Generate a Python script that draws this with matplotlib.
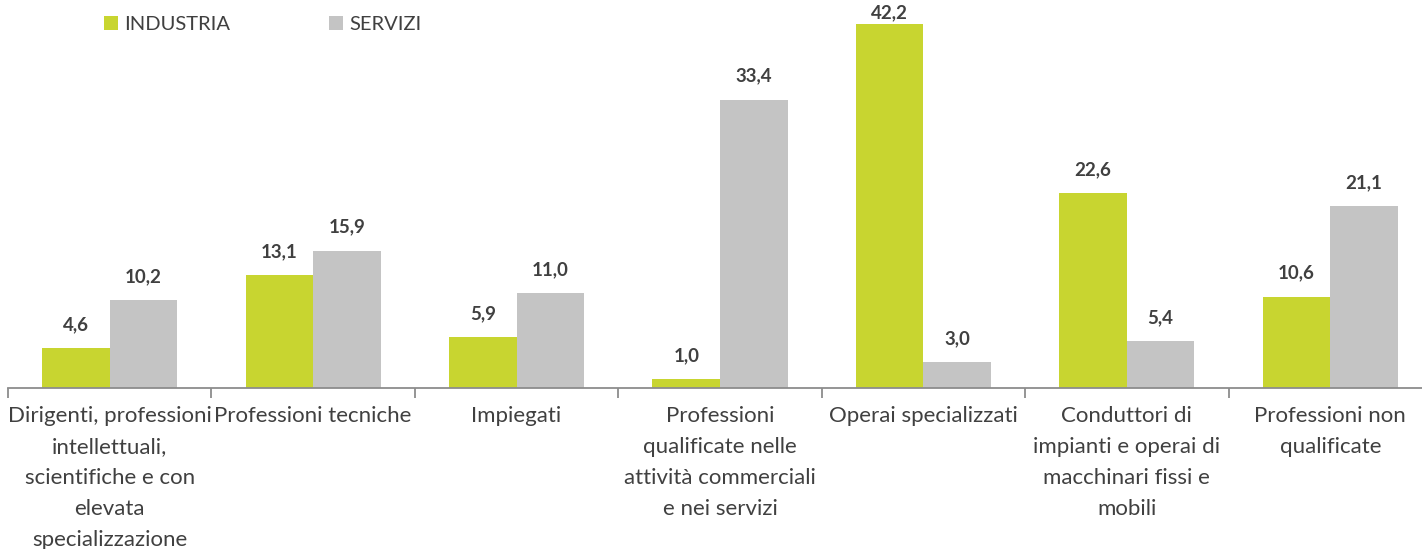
import numpy as np
import matplotlib.pyplot as plt

categories = [
    "Dirigenti, professioni\nintellettuali,\nscientifiche e con\nelevata\nspecializzazione",
    "Professioni tecniche",
    "Impiegati",
    "Professioni\nqualificate nelle\nattività commerciali\ne nei servizi",
    "Operai specializzati",
    "Conduttori di\nimpianti e operai di\nmacchinari fissi e\nmobili",
    "Professioni non\nqualificate",
]
industria = [4.6, 13.1, 5.9, 1.0, 42.2, 22.6, 10.6]
servizi = [10.2, 15.9, 11.0, 33.4, 3.0, 5.4, 21.1]

GREEN = "#C8D530"
GREY = "#C4C4C4"
TEXT = "#404040"

plt.rcParams['font.family'] = ['Lato', 'DejaVu Sans']

W, H = 1422, 549
YMAX = 45
fig = plt.figure(figsize=(W / 100, H / 100), dpi=100)
# axis spans a bit past the right edge, like the original
ax = fig.add_axes([8 / W, 161 / H, 1424 / W, 388 / H])

x = np.arange(len(categories))
bw = 0.332
b1 = ax.bar(x - bw / 2, industria, bw, color=GREEN, label="INDUSTRIA")
b2 = ax.bar(x + bw / 2, servizi, bw, color=GREY, label="SERVIZI")

def fmt(v):
    return f"{v:.1f}".replace(".", ",")

pt_per_unit = 388 / YMAX * 0.72
for bars, vals in ((b1, industria), (b2, servizi)):
    for r, v in zip(bars, vals):
        off = min(11, (YMAX - v) * pt_per_unit - 15)
        ax.annotate(fmt(v), (r.get_x() + r.get_width() / 2, v),
                    xytext=(0, off), textcoords="offset points",
                    ha="center", va="bottom", fontsize=13.5,
                    fontweight="bold", color=TEXT)

ax.set_xlim(-0.5, len(categories) - 0.5)
ax.set_ylim(0, YMAX)
ax.set_yticks([])
for s in ("top", "right", "left"):
    ax.spines[s].set_visible(False)
ax.spines["bottom"].set_color("#8C8C8C")
ax.spines["bottom"].set_linewidth(1.3)

ax.set_xticks(x)
ax.set_xticklabels(categories, fontsize=16, color=TEXT, linespacing=1.69)
ax.tick_params(axis="x", which="major", length=0, pad=13)
ax.set_xticks(np.arange(len(categories) + 1) - 0.5, minor=True)
ax.tick_params(axis="x", which="minor", length=7, width=1.3, color="#8C8C8C")

ax.legend(loc="upper left", bbox_to_anchor=(80 / 1424, 1.0), ncol=2,
          frameon=False, fontsize=14.5, handlelength=0.7, handleheight=0.7,
          handletextpad=0.3, columnspacing=4.9, labelcolor=TEXT,
          borderaxespad=0.4)

fig.savefig("out.png", dpi=100)
